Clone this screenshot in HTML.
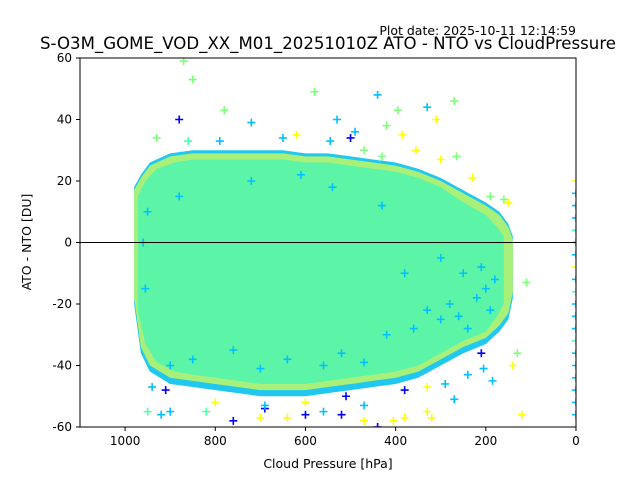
<!DOCTYPE html>
<html><head><meta charset="utf-8"><style>
body{margin:0;background:#fff;}
svg{display:block;font-family:"DejaVu Sans","Liberation Sans",sans-serif;}
</style></head><body>
<svg id="chart" width="640" height="480" viewBox="0 0 640 480">
<text x="576" y="35" font-size="12.5" text-anchor="end">Plot date: 2025-10-11 12:14:59</text>
<text x="328" y="49" font-size="16.6" text-anchor="middle">S-O3M_GOME_VOD_XX_M01_20251010Z ATO - NTO vs CloudPressure</text>
<defs><clipPath id="clip"><rect x="80" y="58" width="496" height="369"/></clipPath></defs>
<g id="plot" clip-path="url(#clip)"></g>
<rect x="80" y="58" width="496" height="369" fill="none" stroke="#000" stroke-width="1"/>
<g id="axes"></g>
<text x="328" y="468" font-size="12.5" text-anchor="middle">Cloud Pressure [hPa]</text>
<text transform="translate(31,242) rotate(-90)" font-size="12.5" text-anchor="middle">ATO - NTO [DU]</text>
</svg>
<script>
const xTicks=[1000,800,600,400,200,0];
const yTicks=[-60,-40,-20,0,20,40,60];
// outer envelope (cyan/yellow fringe)
const envP=[980,965,945,900,850,800,750,700,650,600,550,500,450,400,350,300,250,200,170,150,140];
const envTop=[18,22,26,29,30,30,30,30,30,29,29,28,27,26,24,21,17,13,10,6,2];
const envBot=[-20,-36,-42,-46,-47,-48,-49,-50,-50,-50,-49,-48,-47,-46,-44,-40,-36,-33,-29,-25,-18];
// mint core
const coreP=[972,955,930,890,850,800,750,700,650,600,550,500,450,400,350,300,250,200,175,160];
const coreTop=[15,20,24,26,27,27,27,27,27,26,26,25,24,23,21,18,13,9,5,2];
const coreBot=[-22,-33,-39,-42,-43,-44,-45,-46,-46,-46,-45,-44,-43,-42,-40,-36,-32,-29,-24,-20];
// cyan speckle inside blob
const speckP=[960,955,900,850,760,700,640,560,520,470,420,360,330,300,280,260,240,220,200,190,950,880,720,610,540,430,380,300,250,210,180];
const speckV=[0,-15,-40,-38,-35,-41,-38,-40,-36,-39,-30,-28,-22,-25,-20,-24,-28,-18,-15,-22,10,15,20,22,18,12,-10,-5,-10,-8,-12];
// outliers
const outP=[870,850,780,580,530,490,440,420,395,330,310,270,920,950,900,820,760,700,690,640,600,560,520,470,440,405,380,330,320,270,240,205,185,140,120,110,930,880,860,790,720,650,620,545,500,470,430,385,355,300,265,230,190,160,150,940,910,800,690,600,510,470,380,330,290,210,130];
const outV=[59,53,43,49,40,36,48,38,43,44,40,46,-56,-55,-55,-55,-58,-57,-54,-57,-56,-55,-56,-58,-60,-58,-57,-55,-57,-51,-43,-41,-45,-40,-56,-13,34,40,33,33,39,34,35,33,34,30,28,35,30,27,28,21,15,14,13,-47,-48,-52,-53,-52,-50,-53,-48,-47,-46,-36,-36];
const outC=["#7dff7a","#7dff7a","#7dff7a","#7dff7a","#00c0ff","#00c0ff","#00c0ff","#7dff7a","#7dff7a","#00c0ff","#ffff00","#7dff7a","#00c0ff","#4dffb0","#00c0ff","#4dffb0","#0000ff","#ffff00","#0000ff","#ffff00","#0000ff","#00c0ff","#0000ff","#ffff00","#0000ff","#ffff00","#ffff00","#ffff00","#ffff00","#00c0ff","#00c0ff","#00c0ff","#00c0ff","#ffff00","#ffff00","#7dff7a","#7dff7a","#0000ff","#4dffb0","#00c0ff","#00c0ff","#00c0ff","#ffff00","#00c0ff","#0000ff","#7dff7a","#7dff7a","#ffff00","#ffff00","#ffff00","#7dff7a","#ffff00","#7dff7a","#7dff7a","#ffff00","#00c0ff","#0000ff","#ffff00","#00c0ff","#ffff00","#0000ff","#00c0ff","#0000ff","#ffff00","#00c0ff","#0000ff","#7dff7a"];
// column at 0 hPa
const zeroV=[20,16,12,8,4,0,-4,-8,-12,-16,-20,-24,-28,-32,-36,-40,-44,-48,-52,-56];
const zeroC=["#ffff00","#00c0ff","#00c0ff","#00c0ff","#4dffb0","#00c0ff","#00c0ff","#ffff00","#00c0ff","#4dffb0","#00c0ff","#00c0ff","#00c0ff","#4dffb0","#00c0ff","#00c0ff","#00c0ff","#00c0ff","#00c0ff","#00c0ff"];

const NS="http://www.w3.org/2000/svg";
const X=p=>80+(1100-p)/1100*496;
const Y=v=>242.5-v/60*184.5;
const plot=document.getElementById('plot'),axes=document.getElementById('axes');
function mk(t,a,parent){const e=document.createElementNS(NS,t);for(const k in a)e.setAttribute(k,a[k]);parent.appendChild(e);return e;}
function band(P,T,B,fill,name){
  let d=P.map((p,i)=>(i?'L':'M')+X(p)+','+Y(T[i])).join('');
  for(let i=P.length-1;i>=0;i--)d+='L'+X(P[i])+','+Y(B[i]);
  const e=mk('path',{d:d+'Z',fill:fill},plot);
  
  
}
band(envP,envTop,envBot,'#20c8f0','outer-envelope');
band(envP,envTop.map(v=>v-1),envBot.map(v=>v+2),'#a8f07a','mixed-fringe');
band(coreP,coreTop,coreBot,'#5cf5a8','core-density');
function plus(x,y,c,name){
  const g=mk('path',{d:`M${x-4},${y}H${x+4}M${x},${y-4}V${y+4}`,stroke:c,'stroke-width':1.6,fill:'none'},plot);
  
  
}
speckP.forEach((p,i)=>plus(X(p),Y(speckV[i]),'#00c0ff','inner-point'));
outP.forEach((p,i)=>plus(X(p),Y(outV[i]),outC[i],'outlier-point'));
zeroV.forEach((v,i)=>plus(X(0),Y(v),zeroC[i],'zero-pressure-point'));
const zl=mk('line',{x1:80,x2:576,y1:Y(0),y2:Y(0),stroke:'#000','stroke-width':1},plot);


xTicks.forEach(t=>{
  const x=X(t);
  const l=mk('line',{x1:x,x2:x,y1:427,y2:431,stroke:'#000'},axes);
  
  
  const tx=mk('text',{x:x,y:445,'font-size':12,'text-anchor':'middle'},axes);
  tx.textContent=t;
  
  
});
yTicks.forEach(t=>{
  const y=Y(t);
  const l=mk('line',{x1:76,x2:80,y1:y,y2:y,stroke:'#000'},axes);
  
  
  const tx=mk('text',{x:72,y:y+4,'font-size':12,'text-anchor':'end'},axes);
  tx.textContent=t;
  
  
});
</script>
</body></html>
